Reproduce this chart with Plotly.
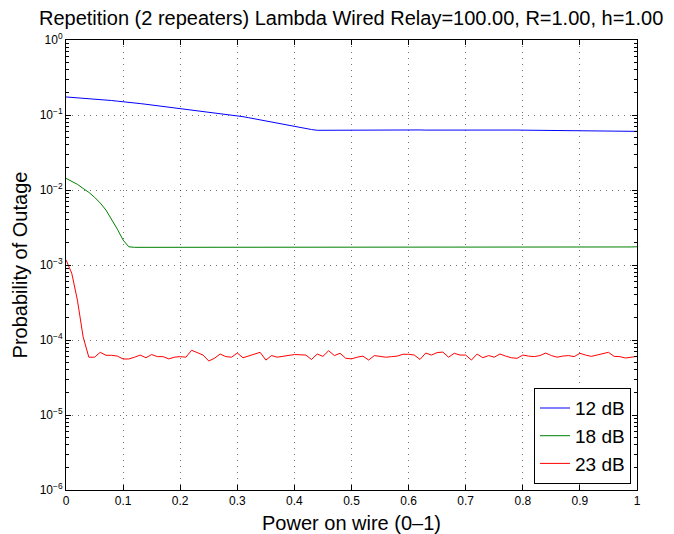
import numpy as np
import plotly.graph_objects as go

# Fraction of power on the wire (0 to 1 in steps of 0.01)
power = np.round(np.arange(101) * 0.01, 2)

# Outage probability, 12 dB
p_12db = [
    0.174, 0.172, 0.170, 0.167, 0.165, 0.163, 0.160, 0.158, 0.156, 0.153,
    0.151, 0.148, 0.145, 0.142, 0.139, 0.136, 0.133, 0.130, 0.126, 0.123,
    0.120, 0.118, 0.116, 0.114, 0.111, 0.109, 0.107, 0.105, 0.102, 0.100,
    0.098, 0.095, 0.092, 0.089, 0.086, 0.083, 0.080, 0.077, 0.075, 0.072,
    0.070, 0.068, 0.066, 0.064, 0.0625, 0.0626, 0.0628, 0.0627, 0.0629, 0.0630,
    0.0628, 0.0631, 0.0629, 0.0630, 0.0628, 0.0632, 0.0630, 0.0629, 0.0631, 0.0630,
    0.0628, 0.0630, 0.0632, 0.0629, 0.0630, 0.0631, 0.0628, 0.0630, 0.0629, 0.0631,
    0.0630, 0.0628, 0.0630, 0.0631, 0.0629, 0.0630, 0.0628, 0.0630, 0.0629, 0.0630,
    0.0628, 0.0627, 0.0629, 0.0628, 0.0626, 0.0628, 0.0627, 0.0625, 0.0626, 0.0624,
    0.0625, 0.0623, 0.0622, 0.0623, 0.0621, 0.0620, 0.0618, 0.0616, 0.0612, 0.0608,
    0.0605,
]

# Outage probability, 18 dB
p_18db = [
    0.0143, 0.0131, 0.0119, 0.0105, 0.0093, 0.0080, 0.0067, 0.0054, 0.0041, 0.0030,
    0.00215, 0.00175, 0.00172, 0.00172, 0.00171, 0.00172, 0.00173, 0.00172, 0.00171, 0.00172,
    0.00172, 0.00173, 0.00171, 0.00172, 0.00172, 0.00171, 0.00172, 0.00173, 0.00172, 0.00171,
    0.00172, 0.00172, 0.00171, 0.00172, 0.00173, 0.00172, 0.00171, 0.00172, 0.00172, 0.00173,
    0.00172, 0.00171, 0.00172, 0.00172, 0.00171, 0.00172, 0.00173, 0.00172, 0.00172, 0.00171,
    0.00172, 0.00172, 0.00173, 0.00172, 0.00171, 0.00172, 0.00172, 0.00171, 0.00172, 0.00173,
    0.00172, 0.00171, 0.00172, 0.00172, 0.00173, 0.00172, 0.00171, 0.00172, 0.00172, 0.00171,
    0.00172, 0.00173, 0.00172, 0.00171, 0.00172, 0.00172, 0.00172, 0.00171, 0.00172, 0.00173,
    0.00172, 0.00171, 0.00172, 0.00172, 0.00171, 0.00172, 0.00173, 0.00172, 0.00171, 0.00172,
    0.00171, 0.00172, 0.00173, 0.00172, 0.00171, 0.00174, 0.00172, 0.00171, 0.00172, 0.00174,
    0.00175,
]

# Outage probability, 23 dB (in units of 1e-5)
p_23db_e5 = [
    117, 78, 34, 11, 5.9, 5.9, 6.85, 6.25, 6.25, 6.1,
    5.58, 5.58, 5.9, 6.3, 5.8, 6.4, 6.0, 6.0, 5.6, 5.9,
    6.0, 5.9, 7.3, 6.8, 6.3, 5.25, 5.7, 6.5, 6.0, 5.9,
    6.7, 5.8, 6.1, 6.5, 6.85, 5.4, 6.2, 5.9, 6.1, 6.3,
    6.4, 6.35, 6.3, 5.5, 6.5, 6.05, 7.2, 6.2, 6.65, 5.7,
    5.6, 5.9, 6.1, 5.4, 6.2, 6.05, 5.9, 6.0, 6.1, 6.45,
    6.45, 6.3, 5.5, 6.7, 6.3, 6.8, 6.9, 5.9, 6.65, 6.3,
    6.3, 5.4, 6.5, 5.8, 6.2, 5.9, 6.5, 6.1, 5.8, 5.7,
    6.3, 6.1, 6.0, 6.2, 6.7, 6.2, 5.9, 6.1, 6.2, 6.0,
    6.65, 6.3, 6.05, 6.3, 6.55, 6.85, 6.05, 6.0, 5.75, 5.9,
    6.05,
]
p_23db = [v * 1e-5 for v in p_23db_e5]

series_names = ["12 dB", "18 dB", "23 dB"]
series_colors = ["#0000ff", "#008000", "#ff0000"]
series_values = [p_12db, p_18db, p_23db]

x_ticks = [0, 0.1, 0.2, 0.3, 0.4, 0.5, 0.6, 0.7, 0.8, 0.9, 1]
x_tick_text = ["0", "0.1", "0.2", "0.3", "0.4", "0.5", "0.6", "0.7", "0.8", "0.9", "1"]
y_exponents = [-6, -5, -4, -3, -2, -1, 0]

font_family = "Liberation Sans, Arial, sans-serif"

fig = go.Figure()
for name, color, vals in zip(series_names, series_colors, series_values):
    fig.add_trace(go.Scatter(
        x=power, y=vals, mode="lines", name=name,
        line=dict(color=color, width=1),
    ))

y_minor = [m * 10.0 ** e for e in y_exponents[:-1] for m in range(2, 10)]

fig.update_layout(
    width=674, height=534,
    margin=dict(l=66, r=37, t=40, b=44, autoexpand=False),
    paper_bgcolor="white", plot_bgcolor="white",
    font=dict(family=font_family, color="black"),
    title=dict(
        text="Repetition (2 repeaters) Lambda Wired Relay=100.00, R=1.00, h=1.00",
        x=0.521, xanchor="center", y=0.966, yanchor="middle",
        font=dict(size=20, family=font_family, color="black"),
    ),
    showlegend=True,
    legend=dict(
        x=0.9895, xanchor="right", y=0.013, yanchor="bottom",
        bgcolor="white", bordercolor="black", borderwidth=1,
        font=dict(size=19, family=font_family, color="black"),
        tracegroupgap=0, itemwidth=30,
    ),
)

fig.update_xaxes(
    range=[0, 1], tickmode="array", tickvals=x_ticks, ticktext=x_tick_text,
    ticks="inside", ticklen=5, tickcolor="black", tickwidth=1,
    tickfont=dict(size=12, family=font_family, color="black"),
    showline=True, linecolor="black", linewidth=1, mirror="allticks",
    showgrid=True, gridcolor="rgba(0,0,0,0.55)", gridwidth=1, griddash="1px,5px",
    zeroline=False, automargin=False,
    title=dict(text="Power on wire (0\u20131)", standoff=8,
               font=dict(size=20, family=font_family, color="black")),
)

fig.update_yaxes(
    type="log", range=[-6, 0],
    tickmode="array", tickvals=[10.0 ** e for e in y_exponents],
    ticktext=[f"10<sup>{e}</sup>".replace("-", "\u2212") for e in y_exponents],
    ticks="inside", ticklen=5, tickcolor="black", tickwidth=1,
    tickfont=dict(size=12, family=font_family, color="black"),
    minor=dict(tickmode="array", tickvals=y_minor, ticks="inside", ticklen=3,
               tickcolor="black", showgrid=False),
    showline=True, linecolor="black", linewidth=1, mirror="allticks",
    showgrid=True, gridcolor="rgba(0,0,0,0.55)", gridwidth=1, griddash="1px,5px",
    zeroline=False, automargin=False,
    title=dict(text="Probability of Outage", standoff=6,
               font=dict(size=20, family=font_family, color="black")),
)

fig.write_html("out.html")
